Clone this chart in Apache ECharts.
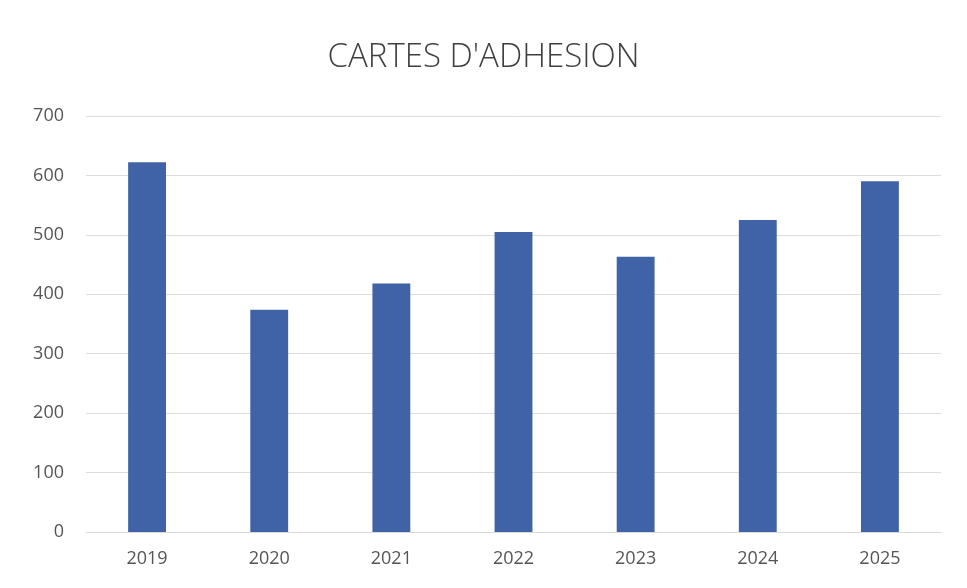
<!DOCTYPE html>
<html>
<head>
<meta charset="utf-8">
<script src="https://cdn.jsdelivr.net/npm/echarts@6/dist/echarts.min.js"></script>
<style>
  html, body { margin: 0; padding: 0; background: #fff; }
  #charts { width: 967px; height: 588px; }
</style>
</head>
<body>
<div id="charts"></div>
<script>
// données
const years = ['2019', '2020', '2021', '2022', '2023', '2024', '2025'];
const cartes = [622, 374, 418, 505, 463, 525, 590];
const yTicks = [0, 100, 200, 300, 400, 500, 600, 700];

let myChart = echarts.init(document.getElementById('charts'));
let option = {
  animation: false,
  title: {
    text: "CARTES D'ADHESION",
    left: 'center',
    top: 36,
    textStyle: {
      fontFamily: 'Open Sans',
      fontWeight: 300,
      fontSize: 33,
      color: '#3f3f3f'
    }
  },
  grid: {
    left: 86,
    right: 26,
    top: 116,
    bottom: 56
  },
  xAxis: {
    type: 'category',
    data: years,
    axisLine: { lineStyle: { color: '#d9d9d9' } },
    axisTick: { show: false },
    axisLabel: {
      margin: 18,
      fontFamily: 'Open Sans',
      fontSize: 18,
      color: '#555'
    }
  },
  yAxis: {
    type: 'value',
    min: yTicks[0],
    max: yTicks[yTicks.length - 1],
    interval: 100,
    axisLine: { show: false },
    axisTick: { show: false },
    axisLabel: {
      margin: 22,
      fontFamily: 'Open Sans',
      fontSize: 18,
      color: '#555'
    },
    splitLine: { lineStyle: { color: '#dcdcdc' } }
  },
  series: [
    {
      name: 'Cartes',
      type: 'bar',
      barWidth: '31%',
      itemStyle: { color: '#3f63a6' },
      data: cartes
    }
  ]
};
myChart.setOption(option);
</script>
</body>
</html>
